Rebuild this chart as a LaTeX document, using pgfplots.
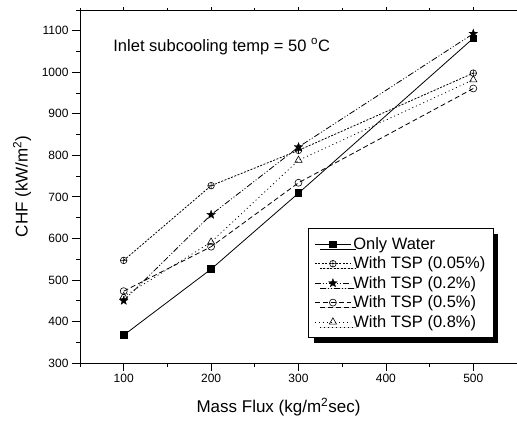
\documentclass[border=0pt]{standalone}
\usepackage{pgfplots}
\pgfplotsset{compat=1.18}
\usepackage{fontspec}
\setmainfont{Liberation Sans}
\usetikzlibrary{calc,shadows,plotmarks}
\pgfdeclareplotmark{fstar}{%
  \pgfpathmoveto{\pgfpointpolar{90}{\pgfplotmarksize}}%
  \pgfpathlineto{\pgfpointpolar{126}{0.42\pgfplotmarksize}}%
  \pgfpathlineto{\pgfpointpolar{162}{\pgfplotmarksize}}%
  \pgfpathlineto{\pgfpointpolar{198}{0.42\pgfplotmarksize}}%
  \pgfpathlineto{\pgfpointpolar{234}{\pgfplotmarksize}}%
  \pgfpathlineto{\pgfpointpolar{270}{0.42\pgfplotmarksize}}%
  \pgfpathlineto{\pgfpointpolar{306}{\pgfplotmarksize}}%
  \pgfpathlineto{\pgfpointpolar{342}{0.42\pgfplotmarksize}}%
  \pgfpathlineto{\pgfpointpolar{18}{\pgfplotmarksize}}%
  \pgfpathlineto{\pgfpointpolar{54}{0.42\pgfplotmarksize}}%
  \pgfpathclose
  \pgfusepathqfillstroke
}
\begin{document}
\begin{tikzpicture}
\begin{axis}[
  name=A,
  scale only axis,
  width=437bp, height=353bp,
  xmin=50, xmax=550, ymin=300, ymax=1150,
  xtick={100,200,300,400,500},
  minor xtick={50,150,250,350,450,550},
  ytick={300,400,...,1100},
  minor ytick={350,450,...,1150},
  xtick pos=left, ytick pos=left,
  tick align=outside,
  major tick length=8bp, minor tick length=4bp,
  tick style={black, line width=0.8bp},
  axis line style={line width=0.9bp},
  /pgf/number format/assume math mode=true,
  /pgf/number format/set thousands separator={},
  ticklabel style={font=\fontsize{12bp}{14bp}\selectfont},
  xlabel={Mass Flux (kg/m\textsuperscript{2}sec)},
  ylabel={CHF (kW/m\textsuperscript{2})},
  label style={font=\fontsize{17bp}{19bp}\selectfont},
  xlabel style={at={(rel axis cs:0.5,0)}, anchor=center, yshift=-44bp, xshift=-20bp},
  ylabel style={at={(rel axis cs:0,0.5)}, anchor=center, yshift=58bp},
  legend cell align=left,
  legend style={
    at={(rel axis cs:0.522,0.382)}, anchor=north west,
    draw=black, line width=0.8bp, fill=white,
    drop shadow={shadow xshift=5bp, shadow yshift=-5bp, fill=black, opacity=1},
    font=\fontsize{16.5bp}{19bp}\selectfont,
    inner xsep=6bp, inner ysep=7bp,
    row sep=2bp,
  },
  legend image code/.code={
    \draw[mark repeat=2,mark phase=2,#1] plot coordinates {(0bp,0bp) (18bp,0bp) (36bp,0bp)};
  },
]
\addplot[black, line width=0.8bp, solid, mark=square*, mark size=3.3bp, mark options={solid}]
  coordinates {(100,367) (200,526) (300,709) (500,1082)};
\addlegendentry{Only Water}
\addplot[black, line width=0.8bp, dash pattern=on 2bp off 1.5bp, mark=oplus, mark size=3.3bp, mark options={solid, line width=0.6bp}]
  coordinates {(100,547) (200,727) (300,812) (500,998)};
\addlegendentry{With TSP (0.05\%)}
\addplot[black, line width=0.8bp, dash pattern=on 6bp off 2bp on 1bp off 2bp on 1bp off 2bp, mark=fstar, mark size=4.5bp, mark options={solid, fill=black, line width=0.3bp}]
  coordinates {(100,450) (200,657) (300,820) (500,1093)};
\addlegendentry{With TSP (0.2\%)}
\addplot[black, line width=0.8bp, dash pattern=on 5bp off 3bp, mark=o, mark size=3.5bp, mark options={solid, line width=0.6bp}]
  coordinates {(100,473) (200,580) (300,734) (500,961)};
\addlegendentry{With TSP (0.5\%)}
\addplot[black, line width=0.8bp, dash pattern=on 1bp off 3bp, mark=triangle, mark size=4.2bp, mark options={solid, line width=0.6bp}]
  coordinates {(100,460) (200,591) (300,788) (500,982)};
\addlegendentry{With TSP (0.8\%)}
\node[anchor=base west, font=\fontsize{16.5bp}{19bp}\selectfont, inner sep=0pt] at (axis cs:88,1051) {Inlet subcooling temp = 50 \textsuperscript{o}C};
\end{axis}
\begin{axis}[
  scale only axis,
  width=437bp, height=353bp,
  xmin=50, xmax=550, ymin=300, ymax=1150,
  hide y axis,
  axis x line*=top,
  xtick={100,200,300,400,500},
  minor xtick={50,150,250,350,450,550},
  xticklabels={},
  tick align=outside,
  major tick length=2.5bp, minor tick length=2bp,
  tick style={black, line width=0.8bp},
  axis line style={line width=0.9bp},
]
\end{axis}
\pgfresetboundingbox
\useasboundingbox ($(A.south west)+(-80bp,-58bp)$) rectangle ($(A.north east)+(0bp,10bp)$);
\end{tikzpicture}
\end{document}
